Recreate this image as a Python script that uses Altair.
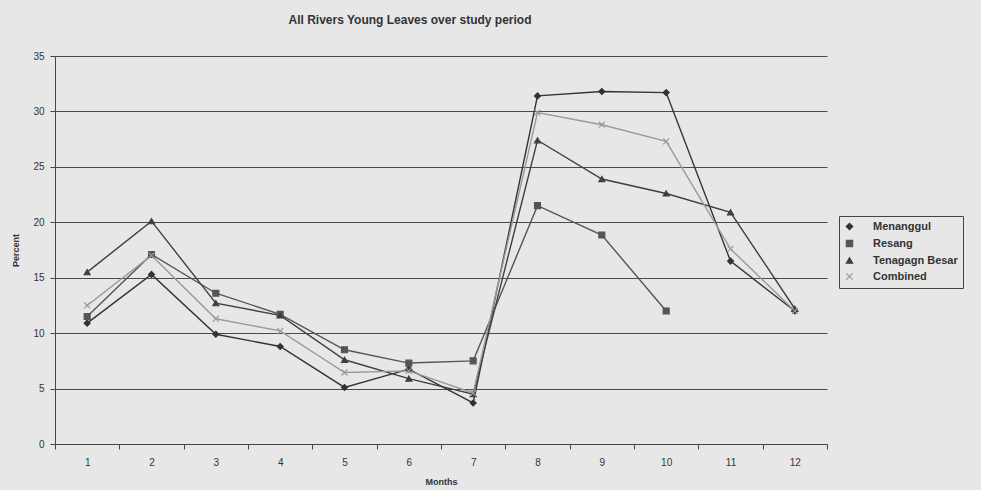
import altair as alt
import pandas as pd

months = list(range(1, 13))
series_names = ["Menanggul", "Resang", "Tenagagn Besar", "Combined"]
menanggul = [10.9, 15.3, 9.9, 8.8, 5.1, 6.75, 3.7, 31.4, 31.8, 31.7, 16.5, 12.0]
resang = [11.5, 17.1, 13.6, 11.7, 8.5, 7.3, 7.5, 21.5, 18.85, 12.0, None, None]
tenagagn = [15.5, 20.1, 12.7, 11.6, 7.6, 5.9, 4.5, 27.4, 23.9, 22.6, 20.9, 12.2]
combined = [12.5, 17.0, 11.3, 10.2, 6.45, 6.6, 4.6, 29.9, 28.8, 27.3, 17.6, 12.0]

rows = []
for name, vals in zip(series_names, [menanggul, resang, tenagagn, combined]):
    for m, v in zip(months, vals):
        if v is not None:
            rows.append({"Month": m, "Percent": v, "Series": name})
df = pd.DataFrame(rows)

FONT = "Liberation Sans"
colors = ["#333333", "#555555", "#3f3f3f", "#9a9a9a"]
shapes = ["diamond", "square", "triangle-up", "M-1,-1L1,1M-1,1L1,-1"]

x_enc = alt.X(
    "Month:O",
    scale=alt.Scale(type="band", paddingInner=0, paddingOuter=0),
    bandPosition=0.5,
    axis=alt.Axis(
        title="Months", labelAngle=0, tickBand="extent", grid=False,
        domainColor="#444444", tickColor="#444444", tickSize=5,
        labelFont=FONT, labelFontSize=10, labelColor="#333333", labelPadding=8,
        titleFont=FONT, titleFontSize=9, titleFontWeight="bold", titleColor="#333333",
        titlePadding=10,
    ),
)
y_enc = alt.Y(
    "Percent:Q",
    scale=alt.Scale(domain=[0, 35], nice=False),
    axis=alt.Axis(
        title="Percent", values=[0, 5, 10, 15, 20, 25, 30, 35],
        grid=True, gridColor="#4a4a4a", gridWidth=1,
        domainColor="#444444", tickColor="#444444", tickSize=5,
        labelFont=FONT, labelFontSize=10, labelColor="#333333", labelPadding=6,
        titleFont=FONT, titleFontSize=9, titleFontWeight="bold", titleColor="#333333",
        titlePadding=12,
    ),
)
color_scale = alt.Scale(domain=series_names, range=colors)
shape_scale = alt.Scale(domain=series_names, range=shapes)

legend = alt.Legend(
    title=None, orient="none", legendX=784, legendY=160,
    labelFont=FONT, labelFontSize=11, labelFontWeight="bold", labelColor="#333333",
    symbolSize=40, symbolStrokeWidth=1.2, rowPadding=4,
    strokeColor="#444444", padding=5, labelOffset=18,
)

base = alt.Chart(df).encode(
    x=x_enc, y=y_enc,
    color=alt.Color("Series:N", scale=color_scale, legend=legend),
)
lines = base.mark_line(strokeWidth=1.4).encode(detail="Series:N")
points = base.mark_point(filled=True, size=35, strokeWidth=1.2, opacity=1).encode(
    stroke=alt.Stroke("Series:N", scale=color_scale, legend=legend),
    shape=alt.Shape("Series:N", scale=shape_scale, legend=legend),
)

chart = alt.layer(lines, points).properties(
    width=772, height=388,
    title=alt.TitleParams(
        "All Rivers Young Leaves over study period",
        font=FONT, fontSize=12, fontWeight="bold", color="#333333",
        anchor="middle", dx=-31, offset=24,
    ),
    autosize=alt.AutoSizeParams(type="none"),
    padding={"left": 55, "top": 56, "right": 154, "bottom": 46},
    background="#e7e7e7",
).configure_view(stroke=None, fill="#e7e7e7")

chart.save("out.html", embed_options={"renderer": "svg", "actions": False})
